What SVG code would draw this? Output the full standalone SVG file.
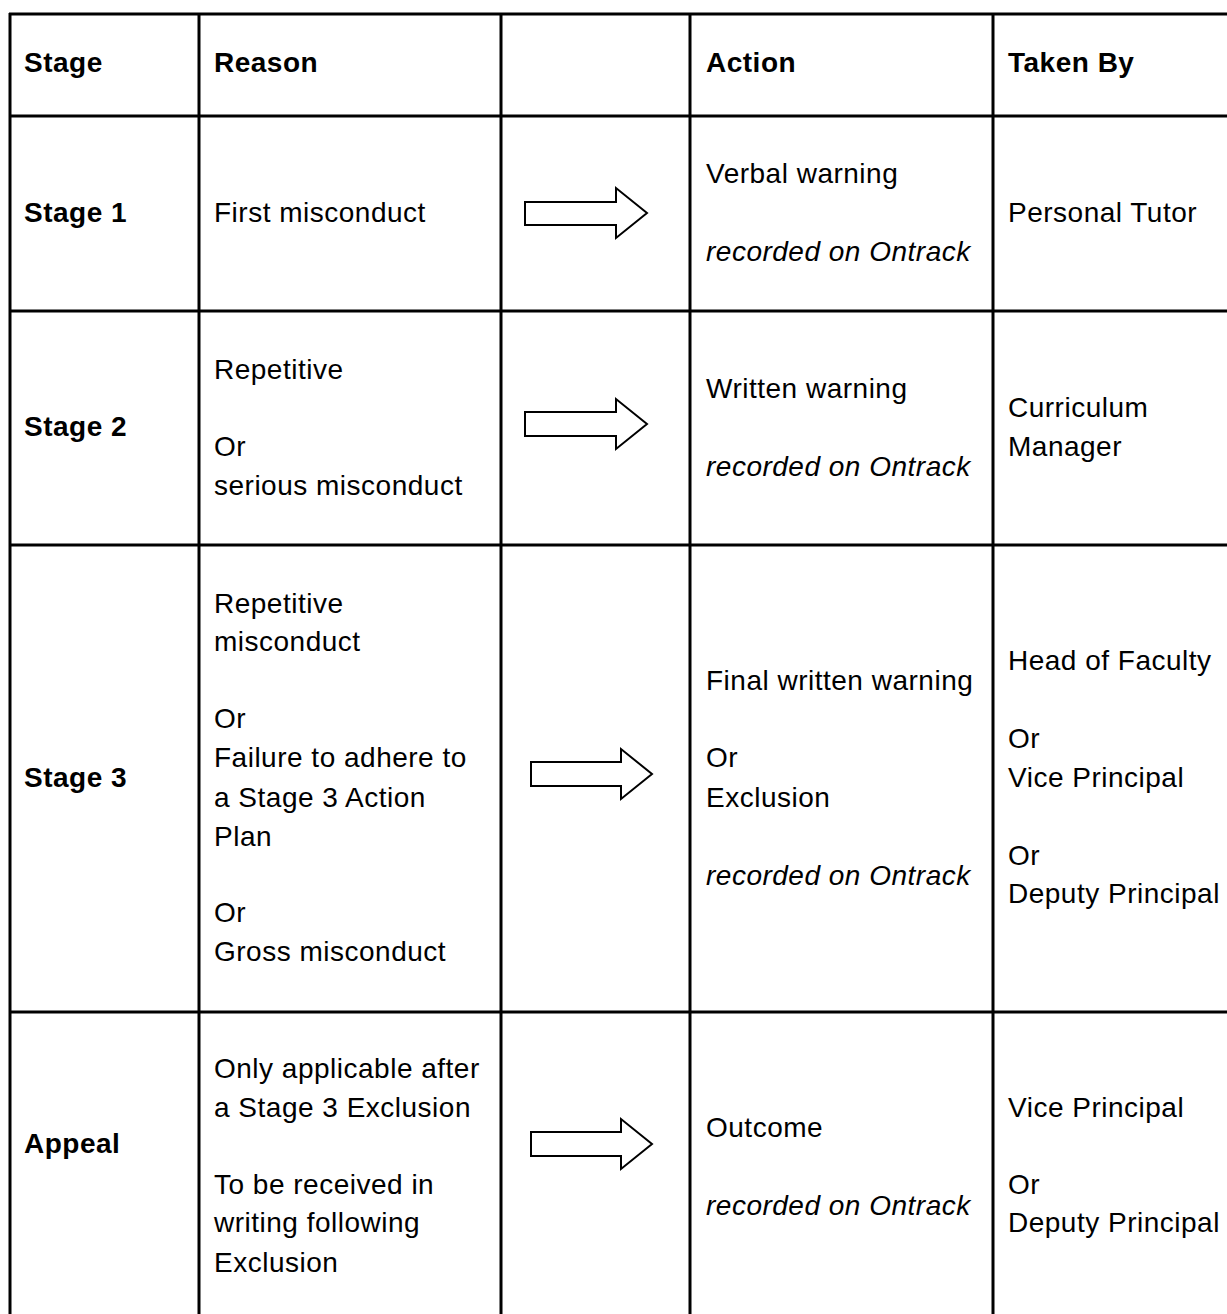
<svg xmlns="http://www.w3.org/2000/svg" width="1227" height="1314" viewBox="0 0 1227 1314">
<style>
text{font-family:"Liberation Sans",Arial,sans-serif;font-size:28px;letter-spacing:0.5px;fill:#000}
.b{font-weight:bold}
.i{font-style:italic}
.grid line{stroke:#000;stroke-width:3}
.arrow{fill:#fff;stroke:#000;stroke-width:2;stroke-linejoin:miter}
</style>
<rect width="1227" height="1314" fill="#fff"/>
<g id="grid" class="grid">
<line x1="9" y1="14" x2="1227" y2="14"/>
<line x1="9" y1="116" x2="1227" y2="116"/>
<line x1="9" y1="311" x2="1227" y2="311"/>
<line x1="9" y1="545" x2="1227" y2="545"/>
<line x1="9" y1="1012" x2="1227" y2="1012"/>
<line x1="10" y1="13" x2="10" y2="1314"/>
<line x1="199" y1="13" x2="199" y2="1314"/>
<line x1="501" y1="13" x2="501" y2="1314"/>
<line x1="690" y1="13" x2="690" y2="1314"/>
<line x1="993" y1="13" x2="993" y2="1314"/>
</g>
<g id="header">
<text class="b" x="24" y="72">Stage</text>
<text class="b" x="214" y="72">Reason</text>
<text class="b" x="706" y="72">Action</text>
<text class="b" x="1008" y="72">Taken By</text>
</g>
<g id="stage1">
<text class="b" x="24" y="222">Stage 1</text>
<text x="214" y="222">First misconduct</text>
<text x="706" y="183">Verbal warning</text>
<text class="i" x="706" y="261">recorded on Ontrack</text>
<text x="1008" y="222">Personal Tutor</text>
</g>
<g id="stage2">
<text class="b" x="24" y="436">Stage 2</text>
<text x="214" y="379">Repetitive</text>
<text x="214" y="456">Or</text>
<text x="214" y="495">serious misconduct</text>
<text x="706" y="398">Written warning</text>
<text class="i" x="706" y="476">recorded on Ontrack</text>
<text x="1008" y="417">Curriculum</text>
<text x="1008" y="456">Manager</text>
</g>
<g id="stage3">
<text class="b" x="24" y="787">Stage 3</text>
<text x="214" y="613">Repetitive</text>
<text x="214" y="651">misconduct</text>
<text x="214" y="728">Or</text>
<text x="214" y="767">Failure to adhere to</text>
<text x="214" y="807">a Stage 3 Action</text>
<text x="214" y="846">Plan</text>
<text x="214" y="922">Or</text>
<text x="214" y="961">Gross misconduct</text>
<text x="706" y="690">Final written warning</text>
<text x="706" y="767">Or</text>
<text x="706" y="807">Exclusion</text>
<text class="i" x="706" y="885">recorded on Ontrack</text>
<text x="1008" y="670">Head of Faculty</text>
<text x="1008" y="748">Or</text>
<text x="1008" y="787">Vice Principal</text>
<text x="1008" y="865">Or</text>
<text x="1008" y="903">Deputy Principal</text>
</g>
<g id="appeal">
<text class="b" x="24" y="1153">Appeal</text>
<text x="214" y="1078">Only applicable after</text>
<text x="214" y="1117">a Stage 3 Exclusion</text>
<text x="214" y="1194">To be received in</text>
<text x="214" y="1232">writing following</text>
<text x="214" y="1272">Exclusion</text>
<text x="706" y="1137">Outcome</text>
<text class="i" x="706" y="1215">recorded on Ontrack</text>
<text x="1008" y="1117">Vice Principal</text>
<text x="1008" y="1194">Or</text>
<text x="1008" y="1232">Deputy Principal</text>
</g>
<g id="connectors">
<polygon class="arrow" points="525,202 616,202 616,188 647,213 616,238 616,225 525,225"/>
<polygon class="arrow" points="525,412 616,412 616,399 647,424 616,449 616,436 525,436"/>
<polygon class="arrow" points="531,762 621,762 621,749 652,774 621,799 621,786 531,786"/>
<polygon class="arrow" points="531,1132 621,1132 621,1119 652,1144 621,1169 621,1156 531,1156"/>
</g>
</svg>
